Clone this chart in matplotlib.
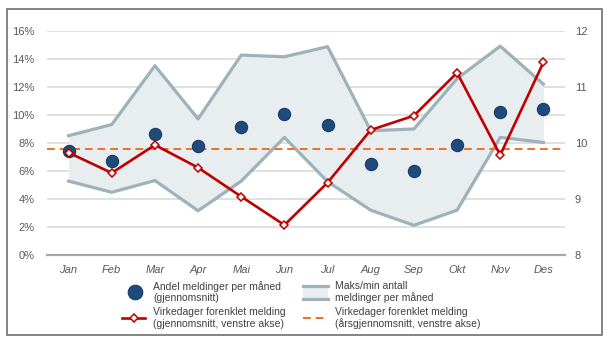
import numpy as np
import matplotlib.pyplot as plt
from matplotlib.patches import Rectangle

plt.rcParams['font.family'] = ['Liberation Sans', 'DejaVu Sans']

months = ['Jan', 'Feb', 'Mar', 'Apr', 'Mai', 'Jun', 'Jul', 'Aug', 'Sep', 'Okt', 'Nov', 'Des']

# andel meldinger per måned, prosent (venstre akse)
andel = [7.43, 6.71, 8.67, 7.76, 9.14, 10.07, 9.26, 6.5, 6.0, 7.88, 10.19, 10.4]
# virkedager forenklet melding, gjennomsnitt
virkedager = [7.31, 5.86, 7.86, 6.24, 4.17, 2.14, 5.17, 8.93, 9.95, 13.02, 7.14, 13.76]
virkedager_snitt = 7.57
# maks/min antall meldinger (høyre akse)
maks = [10.13, 10.33, 11.38, 10.43, 11.57, 11.54, 11.72, 10.22, 10.25, 11.15, 11.73, 11.05]
minimum = [9.32, 9.12, 9.33, 8.79, 9.32, 10.10, 9.31, 8.80, 8.53, 8.80, 10.10, 10.01]

grey = '#595959'
band_line = '#9db2ba'
band_fill = '#e8eef0'
red = '#c00000'
orange = '#f07021'
blue = '#1f4a7c'

fig = plt.figure(figsize=(6.13, 3.37), dpi=100)
W, H = 613, 337
ax = fig.add_axes([47 / W, 1 - 255 / H, 518 / W, 224 / H])
ax2 = ax.twinx()

x = np.arange(len(months))

# band on the right axis
ax2.fill_between(x, minimum, maks, color=band_fill, lw=0, zorder=1)
ax2.plot(x, maks, color=band_line, lw=2.3, zorder=2)
ax2.plot(x, minimum, color=band_line, lw=2.3, zorder=2)
ax2.set_ylim(8, 12)
ax2.set_yticks([8, 9, 10, 11, 12])
ax2.tick_params(axis='y', length=0, labelsize=8, labelcolor=grey, pad=7)
for s in ax2.spines.values():
    s.set_visible(False)

# left axis on top of the band
ax.set_zorder(ax2.get_zorder() + 1)
ax.patch.set_visible(False)
ax.set_ylim(0, 16)
ax.set_xlim(-0.5, 11.5)
ax.set_yticks(np.arange(0, 17, 2))
ax.set_yticklabels([f'{v}%' for v in range(0, 17, 2)])
ax.set_xticks(x)
ax.set_xticklabels(months, fontstyle='italic')
ax.tick_params(axis='both', length=0, labelsize=8, labelcolor=grey)
ax.tick_params(axis='y', pad=9)
ax.tick_params(axis='x', pad=7)
for s in ['left', 'right', 'top']:
    ax.spines[s].set_visible(False)
ax.spines['bottom'].set_color('#a6a6a6')
ax.spines['bottom'].set_linewidth(1.6)
for v in range(2, 17, 2):
    ax2.axhline(8 + v / 4, color='#dadada', lw=1.2, zorder=0)

ax.axhline(virkedager_snitt, color=orange, lw=1.4, ls=(0, (4, 2.5)), zorder=3)
ax.scatter(x, andel, s=78, color=blue, edgecolor='#173b63', lw=0.8, zorder=4)
ax.plot(x, virkedager, color=red, lw=1.9, marker='D', ms=4.2, mfc='white',
        mec=red, mew=1.1, zorder=5)

# legend and outer frame drawn in pixel coordinates
lg = fig.add_axes([0, 0, 1, 1], zorder=-1)
lg.set_xlim(0, W)
lg.set_ylim(H, 0)
lg.axis('off')
lg.add_patch(Rectangle((7, 9), 595, 326, fill=False, ec='#707070', lw=1.2))

lg.scatter([135], [292], s=110, color=blue, edgecolor='#173b63', lw=0.8)
lg.plot([122, 145], [318, 318], color=red, lw=1.9)
lg.plot([134], [318], marker='D', ms=4.2, mfc='white', mec=red, mew=1.1)
lg.fill_between([303, 328], [286, 286], [299, 299], color=band_fill, lw=0)
lg.plot([303, 328], [286, 286], color=band_line, lw=2.3)
lg.plot([303, 328], [299, 299], color=band_line, lw=2.3)
lg.plot([303, 328], [318, 318], color=orange, lw=1.4, ls=(0, (4, 2.5)))

txt = dict(fontsize=7.5, color='#404040', va='center', ha='left', linespacing=1.15)
lg.text(153, 292, 'Andel meldinger per måned\n(gjennomsnitt)', **txt)
lg.text(153, 318, 'Virkedager forenklet melding\n(gjennomsnitt, venstre akse)', **txt)
lg.text(335, 292, 'Maks/min antall\nmeldinger per måned', **txt)
lg.text(335, 318, 'Virkedager forenklet melding\n(årsgjennomsnitt, venstre akse)', **txt)

fig.savefig('out.png', dpi=100)
